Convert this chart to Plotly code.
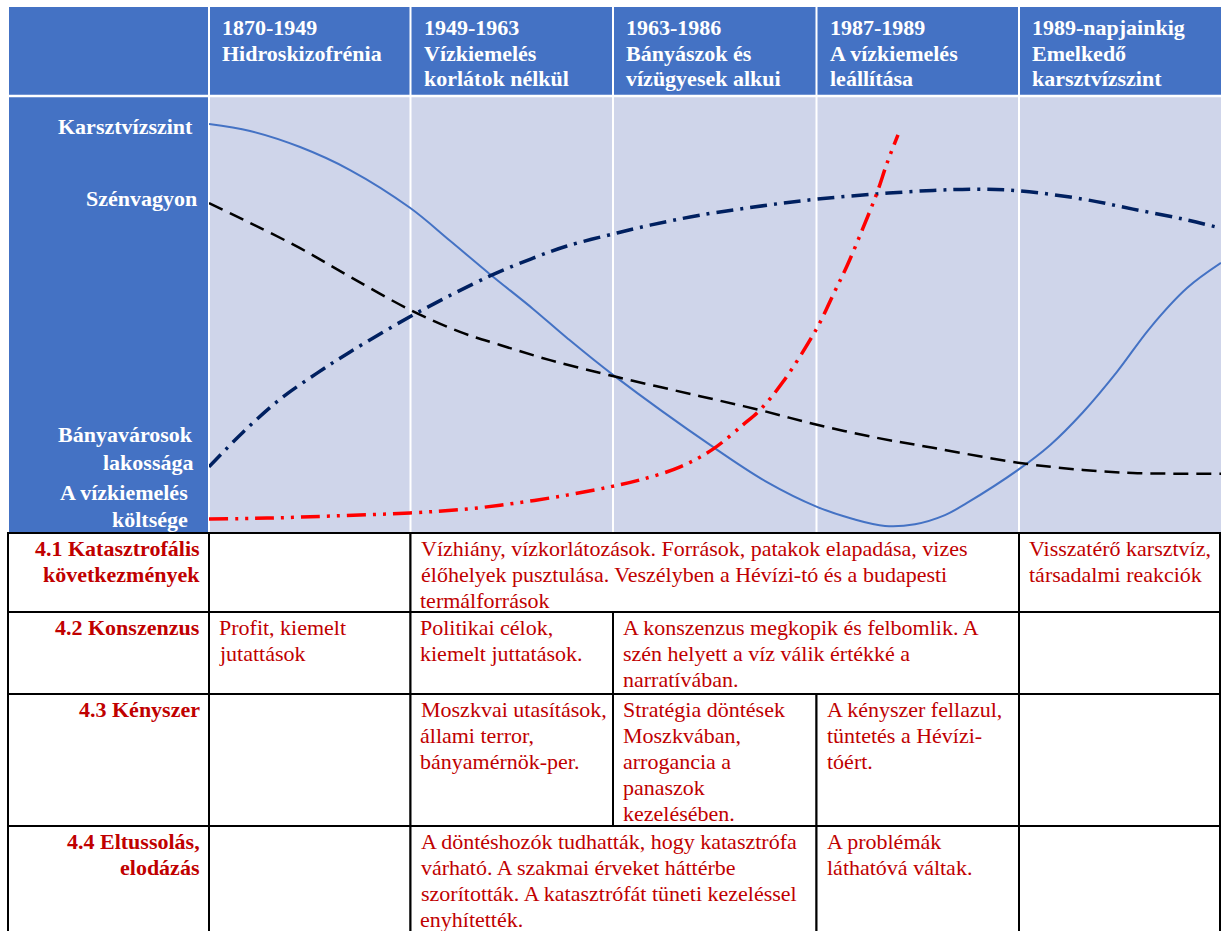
import plotly.graph_objects as go

# canvas size (px) - everything outside the chart area is laid out in pixels
W, H = 1221, 931

# periods (one column each on the x axis, 0..5)
periods = ["1870-1949<br>Hidroskizofrénia",
           "1949-1963<br>Vízkiemelés<br>korlátok nélkül",
           "1963-1986<br>Bányászok és<br>vízügyesek alkui",
           "1987-1989<br>A vízkiemelés<br>leállítása",
           "1989-napjainkig<br>Emelkedő<br>karsztvízszint"]

# series: x in period units, y as relative level (0-100)
karszt_x = [0, 0.203, 0.450, 0.697, 0.993, 1.191, 1.388, 1.601, 1.769, 1.996, 2.490, 2.757,
            3.004, 3.182, 3.340, 3.488, 3.636, 3.745, 3.997, 4.155, 4.318, 4.486, 4.649, 4.832, 5.0]
karszt_y = [94.0, 92.4, 88.7, 83.4, 74.7, 67.1, 59.4, 51.4, 44.7, 36.2, 19.6, 11.5,
            5.8, 3.0, 1.4, 1.8, 3.9, 6.7, 14.3, 20.0, 27.6, 36.9, 47.0, 56.2, 62.0]

szen_x = [0, 0.203, 0.450, 0.697, 0.993, 1.240, 1.438, 1.685, 2.016, 2.426, 2.722, 3.004,
          3.300, 3.577, 4.007, 4.318, 4.565, 5.0]
szen_y = [75.8, 71.2, 65.4, 58.8, 51.2, 46.1, 43.1, 39.6, 35.7, 31.3, 28.1, 24.7,
          21.7, 19.4, 15.9, 14.3, 13.6, 13.4]

lakos_x = [0, 0.168, 0.351, 0.534, 0.697, 1.028, 1.388, 1.601, 1.769, 2.016, 2.179,
           2.426, 2.757, 3.004, 3.300, 3.577, 3.794, 4.007, 4.318, 4.565, 4.812, 5.0]
lakos_y = [15.0, 23.0, 30.6, 36.6, 41.5, 50.5, 59.0, 63.1, 65.9, 68.9, 70.7,
           73.0, 75.3, 76.7, 77.9, 78.7, 79.0, 78.6, 76.7, 74.4, 72.1, 70.0]

koltseg_x = [0, 0.287, 0.613, 0.993, 1.275, 1.522, 1.769, 1.981, 2.130, 2.328, 2.490, 2.638,
             2.722, 2.836, 3.004, 3.083, 3.152, 3.231, 3.300, 3.350, 3.404]
koltseg_y = [3.0, 3.2, 3.7, 4.4, 5.3, 6.7, 8.5, 10.4, 12.0, 15.0, 19.1, 24.7,
             28.1, 34.6, 47.0, 54.6, 61.3, 70.0, 78.1, 85.0, 91.5]

row_labels = ["4.1 Katasztrofális<br>következmények", "4.2 Konszenzus",
              "4.3 Kényszer", "4.4 Eltussolás,<br>elodázás"]

# (row, first column, last column + 1, text)
cells = [
    (0, 1, 2, ""),
    (0, 2, 5, "Vízhiány, vízkorlátozások. Források, patakok elapadása, vizes<br>"
              "élőhelyek pusztulása. Veszélyben a Hévízi-tó és a budapesti<br>termálforrások"),
    (0, 5, 6, "Visszatérő karsztvíz,<br>társadalmi reakciók"),
    (1, 1, 2, "Profit, kiemelt<br>jutattások"),
    (1, 2, 3, "Politikai célok,<br>kiemelt juttatások."),
    (1, 3, 5, "A konszenzus megkopik és felbomlik. A<br>szén helyett a víz válik értékké a<br>narratívában."),
    (1, 5, 6, ""),
    (2, 1, 2, ""),
    (2, 2, 3, "Moszkvai utasítások,<br>állami terror,<br>bányamérnök-per."),
    (2, 3, 4, "Stratégia döntések<br>Moszkvában,<br>arrogancia a<br>panaszok<br>kezelésében."),
    (2, 4, 5, "A kényszer fellazul,<br>tüntetés a Hévízi-<br>tóért."),
    (2, 5, 6, ""),
    (3, 1, 2, ""),
    (3, 2, 4, "A döntéshozók tudhatták, hogy katasztrófa<br>várható. A szakmai érveket háttérbe<br>"
              "szorították. A katasztrófát tüneti kezeléssel<br>enyhítették."),
    (3, 4, 5, "A problémák<br>láthatóvá váltak."),
    (3, 5, 6, ""),
]

# layout helpers
def X(p):
    return p / W

def Y(p):
    return 1 - p / H

BLUE = "#4472C4"
LAV = "#CFD5EA"
TXT_RED = "#C00000"
SERIF = "Liberation Serif, Times New Roman, serif"
FS = 22      # font size
LH = 26      # line spacing (px)

col_px = [8, 209, 410.5, 613, 816.5, 1019, 1220]
row_px = [533, 612, 694, 826, 940]

fig = go.Figure()

fig.add_trace(go.Scatter(x=karszt_x, y=karszt_y, mode="lines", line_shape="spline",
                         line=dict(color="#4472C4", width=2), hoverinfo="skip"))
fig.add_trace(go.Scatter(x=szen_x, y=szen_y, mode="lines", line_shape="spline",
                         line=dict(color="black", width=2.5, dash="15px,8px"), hoverinfo="skip"))
fig.add_trace(go.Scatter(x=lakos_x, y=lakos_y, mode="lines", line_shape="spline",
                         line=dict(color="#002060", width=3.5, dash="17px,7px,3px,7px"),
                         hoverinfo="skip"))
fig.add_trace(go.Scatter(x=koltseg_x, y=koltseg_y, mode="lines", line_shape="spline",
                         line=dict(color="#FF0000", width=3.5, dash="19px,7px,3px,7px,3px,7px"),
                         hoverinfo="skip"))

def rect(x0, x1, y0, y1, fill, lw=0, lc="black"):
    return dict(type="rect", xref="paper", yref="paper",
                x0=X(x0), x1=X(x1), y0=Y(y0), y1=Y(y1),
                fillcolor=fill, line=dict(color=lc, width=lw), layer="below")

def hline(x0, x1, y, color, w):
    return dict(type="line", xref="paper", yref="paper", x0=X(x0), x1=X(x1), y0=Y(y), y1=Y(y),
                line=dict(color=color, width=w), layer="below")

def vline(x, y0, y1, color, w):
    return dict(type="line", xref="paper", yref="paper", x0=X(x), x1=X(x), y0=Y(y0), y1=Y(y1),
                line=dict(color=color, width=w), layer="below")

shapes = []
# header band + left blue column + chart background
shapes.append(rect(9, 1221, 7, 532, BLUE))
shapes.append(rect(209, 1221, 97, 532, LAV))
# white grid lines
shapes.append(hline(9, 1221, 96, "white", 2.5))
for c in col_px[1:6]:
    shapes.append(vline(c, 7, 532, "white", 2))

# table cells
for r in range(4):
    shapes.append(rect(col_px[0], col_px[1], row_px[r], row_px[r + 1], "white", 2))
for r, c0, c1, txt in cells:
    shapes.append(rect(col_px[c0], col_px[c1], row_px[r], row_px[r + 1], "white", 2))

annotations = []

def text_block(txt, x, y_first, anchor, color, bold=False):
    # one annotation per line so the line spacing can be set freely
    for i, line in enumerate(txt.split("<br>")):
        annotations.append(dict(x=X(x), y=Y(y_first + i * LH), xref="paper", yref="paper",
                                xanchor=anchor, yanchor="middle", showarrow=False,
                                text="<b>" + line + "</b>" if bold else line,
                                font=dict(family=SERIF, size=FS, color=color)))

# header texts
for i, p in enumerate(periods):
    text_block(p, col_px[i + 1] + 11, 27, "left", "white", bold=True)

# series labels in the left column
series_labels = [("Karsztvízszint", 126, 195), ("Szénvagyon", 198, 199),
                 ("Bányavárosok", 435, 195), ("lakossága", 462, 195),
                 ("A vízkiemelés", 493, 190), ("költsége", 519, 190)]
for txt, yc, xr in series_labels:
    text_block(txt, xr, yc, "right", "white", bold=True)

# table texts
for r, lab in enumerate(row_labels):
    text_block(lab, 202, row_px[r] + 15, "right", TXT_RED, bold=True)
for r, c0, c1, txt in cells:
    if txt:
        text_block(txt, col_px[c0] + 8, row_px[r] + 15, "left", TXT_RED)

fig.update_layout(
    width=W, height=H, autosize=False,
    margin=dict(l=0, r=0, t=0, b=0, pad=0),
    paper_bgcolor="white", plot_bgcolor="rgba(0,0,0,0)",
    showlegend=False, hovermode=False,
    shapes=shapes, annotations=annotations,
    xaxis=dict(domain=[X(209), 1], range=[0, 5], visible=False, fixedrange=True),
    yaxis=dict(domain=[Y(532), Y(98)], range=[0, 100], visible=False, fixedrange=True),
)

# the page body has an 8px default margin; drop it so the figure sits at the window corner
fig.write_html("out.html", config={"displayModeBar": False},
               post_script="document.body.style.margin='0';")
